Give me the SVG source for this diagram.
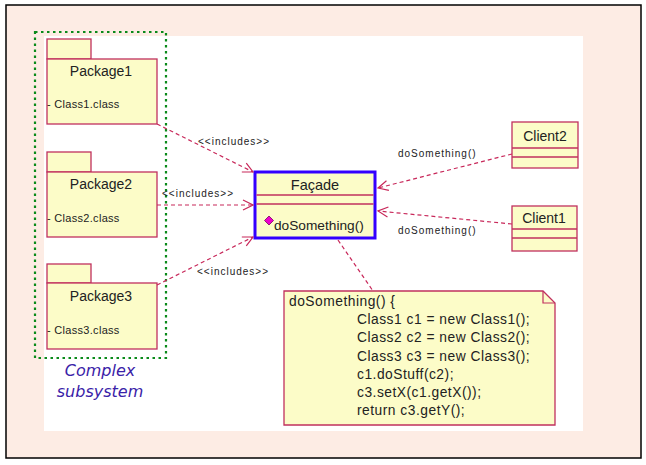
<svg xmlns="http://www.w3.org/2000/svg" width="646" height="465" viewBox="0 0 646 465">
<style>
.box{fill:#fcfcc8;stroke:#c0305e;stroke-width:1.3}
.t{font-family:"Liberation Sans",Arial,sans-serif;fill:#222}
.cls{font-family:"Liberation Sans",Arial,sans-serif;font-size:11px;letter-spacing:0.3px;fill:#222}
.lbl{font-family:"Liberation Sans",Arial,sans-serif;font-size:10px;letter-spacing:1px;fill:#222}
.dep{fill:none;stroke:#c8285a;stroke-width:1.2;stroke-dasharray:4 3}
</style>
<defs>
<marker id="open" markerWidth="12" markerHeight="12" refX="11" refY="6" orient="auto" markerUnits="userSpaceOnUse">
<path d="M1,1 L11,6 L1,11" fill="none" stroke="#c8285a" stroke-width="1.2"/>
</marker>
</defs>
<rect x="6" y="5" width="635" height="453" fill="#fdece4" stroke="#000" stroke-width="1.5"/>
<rect x="44" y="36" width="539" height="395" fill="#ffffff"/>
<g id="subsystem">
<rect x="35" y="32" width="131" height="326" fill="none" stroke="#0a8a1a" stroke-width="2.2" stroke-dasharray="2.5 3.5"/>
<text x="100" y="376" text-anchor="middle" font-family="DejaVu Sans,sans-serif" font-style="italic" font-size="16" fill="#3a22a8">Complex</text>
<text x="100" y="397" text-anchor="middle" font-family="DejaVu Sans,sans-serif" font-style="italic" font-size="16" fill="#3a22a8">subsystem</text>
</g>
<g id="package1">
<rect class="box" x="47" y="39" width="44" height="20"/>
<rect class="box" x="47" y="59" width="110" height="65"/>
<text class="t" x="101" y="76" text-anchor="middle" font-size="14">Package1</text>
<text class="cls" x="47" y="108">- Class1.class</text>
</g>
<g id="package2">
<rect class="box" x="47" y="152" width="44" height="20"/>
<rect class="box" x="47" y="172" width="110" height="65"/>
<text class="t" x="101" y="189" text-anchor="middle" font-size="14">Package2</text>
<text class="cls" x="47" y="222">- Class2.class</text>
</g>
<g id="package3">
<rect class="box" x="47" y="264" width="44" height="19"/>
<rect class="box" x="47" y="283" width="110" height="66"/>
<text class="t" x="101" y="301" text-anchor="middle" font-size="14">Package3</text>
<text class="cls" x="47" y="334">- Class3.class</text>
</g>
<g id="facade">
<rect x="255" y="172" width="120" height="66" fill="#fcfcc8" stroke="#3300ff" stroke-width="3"/>
<line x1="256.5" y1="195" x2="373.5" y2="195" stroke="#c0305e" stroke-width="1.3"/>
<line x1="256.5" y1="204" x2="373.5" y2="204" stroke="#c0305e" stroke-width="1.3"/>
<text class="t" x="315" y="190" text-anchor="middle" font-size="14.5">Façade</text>
<path d="M269,216 L273.5,220.5 L269,225 L264.5,220.5 Z" fill="#ee00cc" stroke="#7a0060" stroke-width="0.8"/>
<text class="t" x="274" y="230" font-size="13.7">doSomething()</text>
</g>
<g id="client2">
<rect class="box" x="512" y="122" width="66" height="46"/>
<line x1="512" y1="148" x2="578" y2="148" stroke="#c0305e" stroke-width="1.3"/>
<line x1="512" y1="157" x2="578" y2="157" stroke="#c0305e" stroke-width="1.3"/>
<text class="t" x="545" y="141" text-anchor="middle" font-size="14">Client2</text>
</g>
<g id="client1">
<rect class="box" x="512" y="206" width="65" height="45"/>
<line x1="512" y1="229" x2="577" y2="229" stroke="#c0305e" stroke-width="1.3"/>
<line x1="512" y1="238" x2="577" y2="238" stroke="#c0305e" stroke-width="1.3"/>
<text class="t" x="544" y="223" text-anchor="middle" font-size="14">Client1</text>
</g>
<g id="note">
<path class="box" d="M284,291 L543,291 L555,303 L555,425 L284,425 Z"/>
<path d="M543,291 L543,303 L555,303" fill="none" stroke="#c0305e" stroke-width="1.2"/>
<text class="t" font-size="13.8" letter-spacing="0.5">
<tspan x="289" y="306">doSomething() {</tspan>
<tspan x="357" y="324">Class1 c1 = new Class1();</tspan>
<tspan x="357" y="342">Class2 c2 = new Class2();</tspan>
<tspan x="357" y="361">Class3 c3 = new Class3();</tspan>
<tspan x="357" y="379">c1.doStuff(c2);</tspan>
<tspan x="357" y="397">c3.setX(c1.getX());</tspan>
<tspan x="357" y="415">return c3.getY();</tspan>
</text>
</g>
<g id="connectors">
<line class="dep" x1="157" y1="124" x2="253" y2="172" marker-end="url(#open)"/>
<line class="dep" x1="157" y1="205" x2="253" y2="205" marker-end="url(#open)"/>
<line class="dep" x1="157" y1="285" x2="253" y2="237" marker-end="url(#open)"/>
<line class="dep" x1="512" y1="154" x2="378" y2="188" marker-end="url(#open)"/>
<line class="dep" x1="512" y1="224" x2="378" y2="211" marker-end="url(#open)"/>
<line class="dep" x1="338" y1="240" x2="373" y2="291"/>
<text class="lbl" x="198" y="145">&lt;&lt;includes&gt;&gt;</text>
<text class="lbl" x="162" y="197">&lt;&lt;includes&gt;&gt;</text>
<text class="lbl" x="197" y="275">&lt;&lt;includes&gt;&gt;</text>
<text class="lbl" x="398" y="157" letter-spacing="1.1">doSomething()</text>
<text class="lbl" x="398" y="234" letter-spacing="1.1">doSomething()</text>
</g>
</svg>
